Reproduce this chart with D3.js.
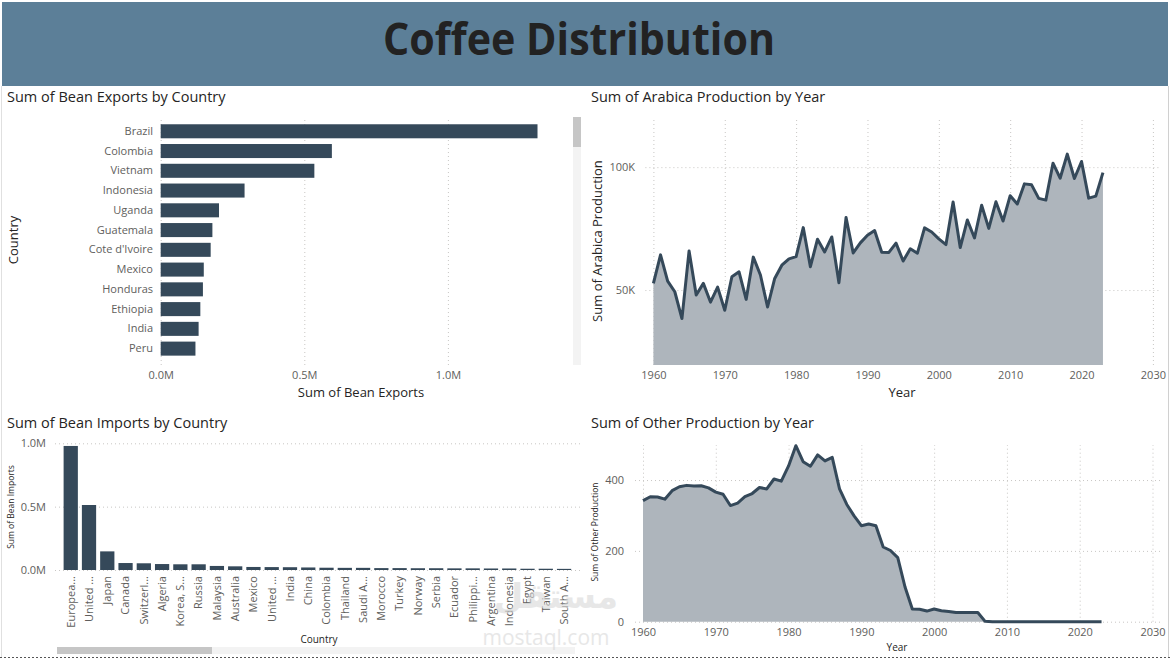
<!DOCTYPE html>
<html>
<head>
<meta charset="utf-8">
<script src="https://cdn.jsdelivr.net/npm/d3@7"></script>
<style>
  body { margin: 0; background: #fff; }
  svg { display: block; font-family: "Open Sans", sans-serif; }
  .grid line { stroke: #c8c6c4; stroke-dasharray: 1,3; }
  .tick text { fill: #605e5c; }
</style>
</head>
<body>
<svg id="page" width="1170" height="661"></svg>
<script>
// ---- data ----
var exportCountries = ["Brazil", "Colombia", "Vietnam", "Indonesia", "Uganda", "Guatemala",
    "Cote d'Ivoire", "Mexico", "Honduras", "Ethiopia", "India", "Peru"];
var exportValues = [1312000, 596000, 535000, 292000, 203000, 180000,
    174000, 150000, 147000, 138000, 132000, 121000];

var importLabels = ["Europea...", "United ...", "Japan", "Canada", "Switzerl...", "Algeria",
    "Korea, S...", "Russia", "Malaysia", "Australia", "Mexico", "United ...", "India", "China",
    "Colombia", "Thailand", "Saudi A...", "Morocco", "Turkey", "Norway", "Serbia", "Ecuador",
    "Philippi...", "Argentina", "Indonesia", "Egypt", "Taiwan", "South A..."];
var importValues = [979000, 513000, 147000, 55000, 53000, 47000, 45000, 45000, 32000, 29000,
    24000, 23000, 22000, 20000, 18000, 17000, 17000, 15000, 15000, 14000, 14000, 13000,
    13000, 12000, 12000, 10000, 10000, 9000];

var years = d3.range(1960, 2024);
var arabicaValues = [52.7, 64.3, 53.6, 49.3, 38.4, 65.9, 48.0, 52.7, 45.1, 51.2,
    41.8, 55.4, 57.4, 46.2, 63.4, 56.1, 43.1, 54.7, 60.1, 62.7,
    63.6, 75.4, 59.5, 70.7, 65.5, 71.6, 53.0, 79.5, 65.1, 69.2,
    72.3, 74.2, 65.4, 65.3, 69.1, 61.8, 66.8, 65.0, 75.3, 73.6,
    70.8, 68.5, 85.8, 67.3, 78.5, 71.2, 84.5, 75.1, 85.9, 78.1,
    88.4, 85.0, 93.2, 92.8, 87.3, 86.6, 101.6, 95.5, 105.3, 95.4,
    102.3, 87.4, 88.2, 97.8].map(function(v) { return v * 1000; });
var otherValues = [342, 353, 352, 346, 370, 381, 385, 383, 384, 378,
    366, 360, 328, 335, 353, 362, 379, 375, 403, 397,
    440, 497, 452, 439, 471, 454, 464, 375, 331, 299,
    271, 276, 271, 211, 201, 181, 98, 36, 35, 30,
    36, 31, 29, 26, 26, 26, 26, 1, 0, 0,
    0, 0, 0, 0, 0, 0, 0, 0, 0, 0,
    0, 0, 0, 0];
var decadeTicks = [1960, 1970, 1980, 1990, 2000, 2010, 2020, 2030];

var barColor = "#35495a", areaColor = "#aeb5bc", titleColor = "#252423";

var svg = d3.select("#page");

// page frame
svg.append("line").attr("x1", 1168.5).attr("x2", 1168.5).attr("y1", 86).attr("y2", 657)
    .attr("stroke", "#d0d0d0");
svg.append("line").attr("x1", 1.5).attr("x2", 1.5).attr("y1", 86).attr("y2", 657)
    .attr("stroke", "#e0e0e0");
svg.append("line").attr("x1", 0).attr("x2", 1170).attr("y1", 657.5).attr("y2", 657.5)
    .attr("stroke", "#555").attr("stroke-dasharray", "2,2");

// header band
svg.append("rect").attr("x", 2).attr("y", 2).attr("width", 1166).attr("height", 84)
    .attr("fill", "#5c7f98");
svg.append("text").attr("x", 579).attr("y", 55).attr("text-anchor", "middle")
    .attr("font-size", 44).attr("font-weight", "bold").attr("fill", "#222")
    .attr("textLength", 392).attr("lengthAdjust", "spacingAndGlyphs")
    .text("Coffee Distribution");

function chartTitle(x, y, t) {
    svg.append("text").attr("x", x).attr("y", y).attr("font-size", 14.5)
        .attr("fill", titleColor).text(t);
}
function axisTitle(x, y, t, size, rotate) {
    svg.append("text").attr("x", x).attr("y", y).attr("font-size", size)
        .attr("fill", titleColor).attr("text-anchor", "middle")
        .attr("transform", rotate ? "rotate(-90," + x + "," + y + ")" : null)
        .text(t);
}

// ---- Sum of Bean Exports by Country ----
chartTitle(7, 102, "Sum of Bean Exports by Country");
var ex = d3.scaleLinear().domain([0, 1e6]).range([160.7, 447.9]);
var ey = d3.scaleBand().domain(exportCountries).range([121.4, 358.5])
    .paddingInner(0.29).paddingOuter(0.145);

svg.append("g").attr("class", "grid")
    .attr("transform", "translate(0,365)")
    .call(d3.axisBottom(ex).tickValues([0, 5e5, 1e6]).tickSize(-247).tickFormat(""))
    .call(function(g) { g.select(".domain").remove(); });

svg.append("g").selectAll("rect").data(exportCountries).join("rect")
    .attr("x", ex(0)).attr("y", function(d) { return ey(d); })
    .attr("width", function(d, i) { return ex(exportValues[i]) - ex(0); })
    .attr("height", ey.bandwidth()).attr("fill", barColor);

svg.append("g").attr("transform", "translate(0,368)")
    .call(d3.axisBottom(ex).tickValues([0, 5e5, 1e6]).tickSize(0)
        .tickFormat(function(d) { return (d / 1e6).toFixed(1) + "M"; }))
    .call(function(g) { g.select(".domain").remove(); })
    .selectAll("text").attr("font-size", 11).attr("font-family", "Open Sans");

svg.append("g").attr("transform", "translate(157,0)")
    .call(d3.axisLeft(ey).tickSize(0).tickPadding(4))
    .call(function(g) { g.select(".domain").remove(); })
    .selectAll("text").attr("font-size", 11).attr("font-family", "Open Sans");

axisTitle(361, 397, "Sum of Bean Exports", 13, false);
axisTitle(18, 240, "Country", 13, true);

// vertical scrollbar
svg.append("rect").attr("x", 573).attr("y", 117).attr("width", 8).attr("height", 248)
    .attr("fill", "#f3f3f3");
svg.append("rect").attr("x", 573).attr("y", 117).attr("width", 8).attr("height", 30)
    .attr("fill", "#c6c6c6");

// ---- area chart helper ----
function areaChart(opts) {
    var x = d3.scaleLinear().domain([1960, 2030]).range(opts.xRange);
    var y = d3.scaleLinear().domain(opts.yDomain).range(opts.yRange);
    var top = opts.yRange[1], bottom = opts.yRange[0];

    svg.append("g").attr("class", "grid")
        .attr("transform", "translate(0," + bottom + ")")
        .call(d3.axisBottom(x).tickValues(decadeTicks).tickSize(-(bottom - top)).tickFormat(""))
        .call(function(g) { g.select(".domain").remove(); });
    svg.append("g").attr("class", "grid")
        .attr("transform", "translate(" + (opts.xRange[0] - 8) + ",0)")
        .call(d3.axisLeft(y).tickValues(opts.yTicks).tickSize(-(opts.xRange[1] - opts.xRange[0] + 16)).tickFormat(""))
        .call(function(g) { g.select(".domain").remove(); });

    var data = years.map(function(yr, i) { return [yr, opts.values[i]]; });
    svg.append("path").datum(data).attr("fill", areaColor)
        .attr("d", d3.area().x(function(d) { return x(d[0]); })
            .y0(bottom).y1(function(d) { return y(d[1]); }));
    svg.append("path").datum(data).attr("fill", "none").attr("stroke", barColor)
        .attr("stroke-width", 3).attr("stroke-linejoin", "round")
        .attr("d", d3.line().x(function(d) { return x(d[0]); }).y(function(d) { return y(d[1]); }));

    svg.append("g").attr("transform", "translate(0," + opts.xLabelY + ")")
        .call(d3.axisBottom(x).tickValues(decadeTicks).tickSize(0).tickFormat(d3.format("d")))
        .call(function(g) { g.select(".domain").remove(); })
        .selectAll("text").attr("font-size", 11).attr("font-family", "Open Sans");
    svg.append("g").attr("transform", "translate(" + opts.yLabelX + ",0)")
        .call(d3.axisLeft(y).tickValues(opts.yTicks).tickSize(0).tickFormat(opts.yFormat))
        .call(function(g) { g.select(".domain").remove(); })
        .selectAll("text").attr("font-size", 11).attr("font-family", "Open Sans");
}

// ---- Sum of Arabica Production by Year ----
chartTitle(591, 102, "Sum of Arabica Production by Year");
areaChart({
    values: arabicaValues,
    xRange: [653.4, 1152.9], yRange: [365, 118], yDomain: [19500, 120000],
    yTicks: [50000, 100000], yFormat: function(d) { return (d / 1000) + "K"; },
    xLabelY: 368, yLabelX: 638
});
axisTitle(902, 397, "Year", 13, false);
axisTitle(602, 241, "Sum of Arabica Production", 13, true);

// ---- Sum of Bean Imports by Country ----
chartTitle(7, 428, "Sum of Bean Imports by Country");
var ix = d3.scaleBand().domain(d3.range(importLabels.length)).range([61.6, 573.2])
    .paddingInner(0.22).paddingOuter(0.11);
var iy = d3.scaleLinear().domain([0, 1e6]).range([570, 443.3]);

svg.append("g").attr("class", "grid")
    .attr("transform", "translate(55,0)")
    .call(d3.axisLeft(iy).tickValues([0, 5e5, 1e6]).tickSize(-525).tickFormat(""))
    .call(function(g) { g.select(".domain").remove(); });

svg.append("g").selectAll("rect").data(importValues).join("rect")
    .attr("x", function(d, i) { return ix(i); }).attr("y", function(d) { return iy(d); })
    .attr("width", ix.bandwidth()).attr("height", function(d) { return iy(0) - iy(d); })
    .attr("fill", barColor);

svg.append("g").attr("transform", "translate(49,0)")
    .call(d3.axisLeft(iy).tickValues([0, 5e5, 1e6]).tickSize(0)
        .tickFormat(function(d) { return (d / 1e6).toFixed(1) + "M"; }))
    .call(function(g) { g.select(".domain").remove(); })
    .selectAll("text").attr("font-size", 11).attr("font-family", "Open Sans");

svg.append("g").attr("transform", "translate(0,574)")
    .call(d3.axisBottom(ix).tickSize(0).tickFormat(function(i) { return importLabels[i]; }))
    .call(function(g) { g.select(".domain").remove(); })
    .selectAll("text").attr("font-size", 11).attr("font-family", "Open Sans")
    .attr("text-anchor", "end").attr("dy", "0.35em")
    .attr("transform", "rotate(-90) translate(-2,0)").attr("x", 0).attr("y", 0);

axisTitle(319, 643, "Country", 10, false);
axisTitle(14, 507, "Sum of Bean Imports", 8.5, true);

// horizontal scrollbar
svg.append("rect").attr("x", 57).attr("y", 647).attr("width", 518).attr("height", 7)
    .attr("fill", "#f3f3f3");
svg.append("rect").attr("x", 57).attr("y", 647).attr("width", 155).attr("height", 7)
    .attr("fill", "#c6c6c6");

// ---- Sum of Other Production by Year ----
chartTitle(591, 428, "Sum of Other Production by Year");
areaChart({
    values: otherValues,
    xRange: [643, 1152.5], yRange: [621.7, 445], yDomain: [0, 499],
    yTicks: [0, 200, 400], yFormat: d3.format("d"),
    xLabelY: 625, yLabelX: 627
});
axisTitle(897, 651, "Year", 10, false);
axisTitle(598, 532, "Sum of Other Production", 8.5, true);

// watermark
svg.append("text").attr("x", 556).attr("y", 608).attr("text-anchor", "middle")
    .attr("font-size", 34).attr("font-weight", "bold").attr("fill", "#d8d8d8")
    .attr("opacity", 0.6).attr("font-family", "DejaVu Sans").text("مستقل");
svg.append("text").attr("x", 546).attr("y", 645).attr("text-anchor", "middle")
    .attr("font-size", 21).attr("fill", "#d8d8d8").attr("opacity", 0.6)
    .text("mostaql.com");
</script>
</body>
</html>
